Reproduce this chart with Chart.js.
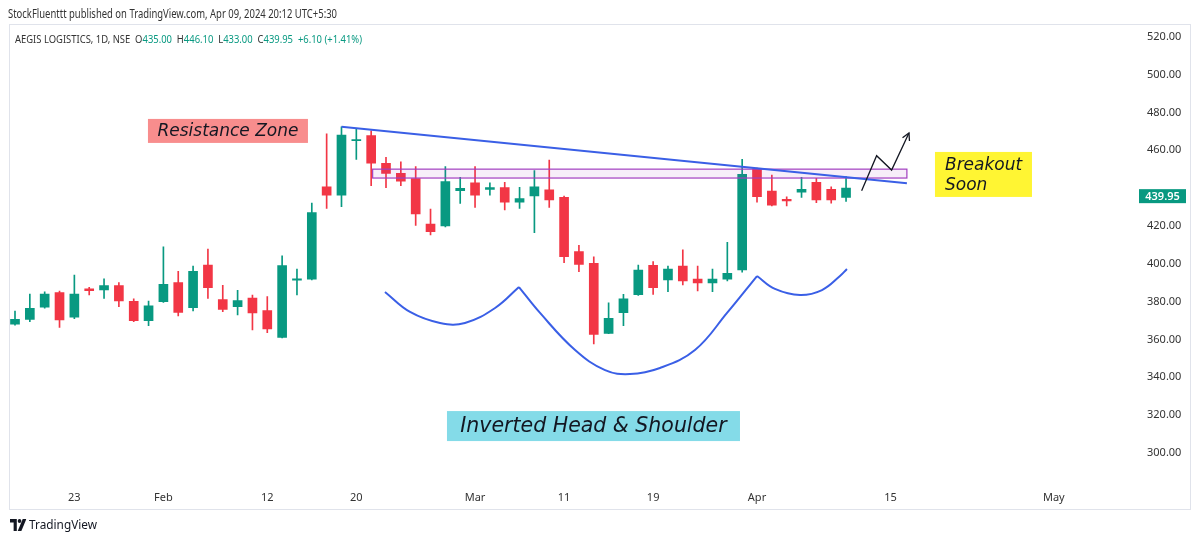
<!DOCTYPE html>
<html>
<head>
<meta charset="utf-8">
<script src="https://cdn.jsdelivr.net/npm/chart.js@4.4.1/dist/chart.umd.min.js"></script>
<style>
  html, body { margin: 0; padding: 0; background: #fff; }
  #wrap { position: relative; width: 1200px; height: 542px; font-family: 'Noto Sans', sans-serif; overflow: hidden; }
  #chart { position: absolute; left: 0; top: 0; }
  .fit { position: absolute; white-space: nowrap; transform-origin: 0 50%; line-height: 1; }
  #byline { left: 8px; top: 8px; font-size: 12px; color: #333; }
  #legend { left: 15px; top: 33px; font-size: 11px; color: #333; }
  #legend .v { color: #089981; }
  #footer { left: 10px; top: 518px; font-size: 13px; color: #131722; display: flex; align-items: center; gap: 3px; }
</style>
</head>
<body>
<div id="wrap">
  <canvas id="chart"></canvas>
  <div id="byline" class="fit" data-w="329">StockFluenttt published on TradingView.com, Apr 09, 2024 20:12 UTC+5:30</div>
  <div id="legend" class="fit" data-w="347">AEGIS LOGISTICS, 1D, NSE&nbsp;&nbsp;O<span class="v">435.00</span>&nbsp;&nbsp;H<span class="v">446.10</span>&nbsp;&nbsp;L<span class="v">433.00</span>&nbsp;&nbsp;C<span class="v">439.95</span>&nbsp;&nbsp;<span class="v">+6.10 (+1.41%)</span></div>
  <div id="footer" class="fit" data-w="87"><svg width="18" height="12" viewBox="0 0 36 24"><path d="M0 0h15v24H8V7H0z" fill="#131722"/><circle cx="21" cy="4" r="4" fill="#131722"/><path d="M28 0h8L25 24h-8z" fill="#131722"/></svg><span>TradingView</span></div>
</div>
<script>
// trading days shown on the time axis (past candles + future space up to May 8)
const dates = [
  '01-17','01-18','01-19','01-20','01-23','01-24','01-25','01-29','01-30','01-31',
  '02-01','02-02','02-05','02-06','02-07','02-08','02-09','02-12','02-13','02-14',
  '02-15','02-16','02-19','02-20','02-21','02-22','02-23','02-26','02-27','02-28',
  '02-29','03-01','03-02','03-04','03-05','03-06','03-07','03-11','03-12','03-13',
  '03-14','03-15','03-18','03-19','03-20','03-21','03-22','03-26','03-27','03-28',
  '04-01','04-02','04-03','04-04','04-05','04-08','04-09',
  '04-10','04-12','04-15','04-16','04-18','04-19','04-22','04-23','04-24','04-25',
  '04-26','04-29','04-30','05-02','05-03','05-06','05-07','05-08'
];

const opens  = [368.0,370.6,377.0,384.7,371.7,386.8,386.1,388.4,380.1,369.9,
                380.0,390.0,376.8,399.3,381.0,377.3,381.9,375.2,361.1,391.3,
                391.8,440.7,436.2,465.0,467.7,453.1,447.8,445.0,421.0,420.0,
                438.6,442.8,439.3,440.2,432.5,435.8,439.0,435.1,406.4,400.2,
                363.2,374.1,383.6,399.2,391.4,398.8,391.9,389.8,391.8,396.7,
                450.1,438.4,434.1,437.8,443.0,439.3,435.0];
const highs  = [375.0,384.0,385.1,385.6,394.0,387.5,392.0,390.0,381.4,380.3,
                409.0,396.0,398.8,407.8,388.6,386.0,383.5,382.6,404.2,397.2,
                432.0,468.6,472.4,471.1,470.3,456.3,453.9,451.3,428.9,451.3,
                445.7,451.3,442.8,443.0,440.4,449.2,454.8,435.8,409.7,403.7,
                379.4,383.8,399.3,401.1,398.8,407.3,398.8,397.2,411.3,455.2,
                450.5,446.9,435.4,445.7,445.2,440.7,446.1];
const lows   = [367.5,369.4,376.5,366.4,371.0,383.5,381.7,377.3,369.4,367.3,
                379.5,372.4,375.0,381.7,374.7,372.9,365.0,363.6,360.8,383.5,
                391.5,429.3,430.1,455.2,441.2,440.2,441.2,420.3,415.2,419.5,
                431.9,429.8,436.3,428.4,429.3,416.4,429.8,400.6,395.8,357.6,
                363.0,367.3,383.3,383.8,385.2,388.8,385.6,385.2,390.9,395.5,
                432.5,430.5,430.5,435.1,432.3,432.0,433.0];
const closes = [370.6,376.4,384.0,370.3,384.0,385.7,388.4,380.3,369.9,377.7,
                389.1,374.3,396.0,387.3,375.9,380.5,374.0,365.5,399.0,392.0,
                427.0,436.2,468.0,465.6,453.1,447.8,443.7,426.3,416.9,443.4,
                439.9,436.2,440.2,432.5,434.4,440.7,433.7,403.7,399.7,362.7,
                371.2,381.4,396.7,387.3,397.2,390.9,389.8,391.9,394.9,447.3,
                435.4,431.0,433.2,439.3,433.7,433.7,439.95];

// time axis labels
const tickDates  = ['01-23','02-01','02-12','02-20','03-01','03-11','03-19','04-01','04-15','05-02'];
const tickLabels = ['23','Feb','12','20','Mar','11','19','Apr','15','May'];
// price axis labels
const priceTicks = [300,320,340,360,380,400,420,440,460,480,500,520];

// drawings, as [bar index, price]
const trendLine    = [[22, 472.4], [60.1, 442.5]];
const leftShoulder = [[24.93,385.1],[26.62,374.5],[28.64,368.7],[30.32,368.7],[32.35,376.6],[33.96,387.7]];
const headCurve    = [[33.96,387.7],[35.38,374.0],[37.74,354.4],[39.76,343.8],[41.44,341.7],[43.46,344.9],[45.82,354.4],[47.98,374.0],[50.0,393.5]];
const rightShoulder= [[50.0,393.5],[51.21,386.7],[52.9,383.5],[54.38,386.1],[55.59,393.5],[56.06,397.2]];
const zone         = [[24.1, 445.3], [60.1, 450.0]];
const breakoutPath = [[57.05,438.6],[58.06,457.1],[59.07,449.5],[60.24,469.1]];

const UP = '#089981', DOWN = '#F23645', BLUE = '#3a5fe6';
const n = closes.length;
const candleColor = closes.map((c, i) => c >= opens[i] ? UP : DOWN);
const pts = arr => arr.map(([x, y]) => ({x, y}));
const lastClose = closes[n - 1];

function lineSet(arr, tension) {
  return { type: 'line', data: pts(arr), borderColor: BLUE, borderWidth: 2,
           pointRadius: 0, tension: tension, fill: false };
}

const drawings = {
  id: 'drawings',
  beforeDraw(chart) {
    const c = chart.ctx;
    c.save();
    c.strokeStyle = '#e0e3eb';
    c.lineWidth = 1;
    c.strokeRect(9.5, 24.5, 1181, 485);
    c.restore();
  },
  beforeDatasetDraw(chart, args) {
    if (args.index !== 3) return;
    const xs = chart.scales.x, ys = chart.scales.y, c = chart.ctx;
    const x0 = xs.getPixelForValue(zone[0][0]), x1 = xs.getPixelForValue(zone[1][0]);
    const y0 = ys.getPixelForValue(zone[1][1]), y1 = ys.getPixelForValue(zone[0][1]);
    c.save();
    c.fillStyle = 'rgba(156, 39, 176, 0.08)';
    c.fillRect(x0, y0, x1 - x0, y1 - y0);
    c.strokeStyle = '#a23fc0';
    c.lineWidth = 1.2;
    c.strokeRect(x0, y0, x1 - x0, y1 - y0);
    c.restore();
  },
  afterDatasetsDraw(chart) {
    const xs = chart.scales.x, ys = chart.scales.y, c = chart.ctx;
    const P = ([i, p]) => [xs.getPixelForValue(i), ys.getPixelForValue(p)];

    // breakout arrow
    c.save();
    c.strokeStyle = '#131722';
    c.lineWidth = 1.3;
    c.beginPath();
    breakoutPath.forEach((q, k) => { const [a, b] = P(q); k ? c.lineTo(a, b) : c.moveTo(a, b); });
    c.stroke();
    const [tx, ty] = P(breakoutPath[breakoutPath.length - 1]);
    const [fx, fy] = P(breakoutPath[breakoutPath.length - 2]);
    const ang = Math.atan2(ty - fy, tx - fx);
    c.beginPath();
    c.moveTo(tx - 8 * Math.cos(ang - 0.5), ty - 8 * Math.sin(ang - 0.5));
    c.lineTo(tx, ty);
    c.lineTo(tx - 8 * Math.cos(ang + 0.5), ty - 8 * Math.sin(ang + 0.5));
    c.stroke();
    c.restore();

    // text notes
    const notes = [
      { text: ['Resistance Zone'], at: [14.35, 470.2], w: 160, h: 24, fill: '#f88d8d', size: 17 },
      { text: ['Inverted Head & Shoulder'], at: [38.98, 314.2], w: 293, h: 30, fill: '#84dbe8', size: 20.5 },
      { text: ['Breakout', 'Soon'], at: [65.26, 447.2], w: 97, h: 45, fill: '#fff533', size: 17, left: true }
    ];
    notes.forEach(nt => {
      const [cx, cy] = P(nt.at);
      c.save();
      c.fillStyle = nt.fill;
      c.fillRect(cx - nt.w / 2, cy - nt.h / 2, nt.w, nt.h);
      c.fillStyle = '#131722';
      c.font = `oblique ${nt.size}px "DejaVu Sans", sans-serif`;
      c.textBaseline = 'middle';
      const lh = nt.size + 3;
      nt.text.forEach((t, k) => {
        const yy = cy - (nt.text.length - 1) * lh / 2 + k * lh + 1;
        if (nt.left) { c.textAlign = 'left'; c.fillText(t, cx - nt.w / 2 + 10, yy); }
        else { c.textAlign = 'center'; c.fillText(t, cx, yy); }
      });
      c.restore();
    });
  },
  afterDraw(chart) {
    // last price label on the price axis (sits a little below the close in the picture)
    const ys = chart.scales.y, c = chart.ctx;
    const yy = ys.getPixelForValue(lastClose) + 8;
    const x0 = chart.chartArea.right + 19;
    c.save();
    c.fillStyle = UP;
    c.fillRect(x0, yy - 7, 47, 14);
    c.fillStyle = '#fff';
    c.font = '600 11px "Noto Sans", sans-serif';
    c.textAlign = 'center';
    c.textBaseline = 'middle';
    c.fillText(lastClose.toFixed(2), x0 + 23.5, yy + 0.5);
    c.restore();
  }
};

const canvas = document.getElementById('chart');
canvas.width = 1200; canvas.height = 542;

new Chart(canvas, {
  type: 'bar',
  plugins: [drawings],
  data: {
    datasets: [
      lineSet(trendLine, 0),
      lineSet(leftShoulder, 0.4),
      lineSet(headCurve, 0.4),
      lineSet(rightShoulder, 0.4),
      { label: 'body', data: opens.map((o, i) => ({x: i, y: [o, closes[i]]})),
        backgroundColor: candleColor, barThickness: 9, grouped: false, minBarLength: 1, borderWidth: 0 },
      { label: 'wick', data: lows.map((l, i) => ({x: i, y: [l, highs[i]]})),
        backgroundColor: candleColor, barThickness: 1, grouped: false, borderWidth: 0 }
    ]
  },
  options: {
    responsive: false,
    animation: false,
    layout: { padding: { left: 10, right: 10, top: 25, bottom: 33 } },
    plugins: { legend: { display: false }, tooltip: { enabled: false } },
    scales: {
      x: {
        type: 'linear', position: 'bottom', offset: false,
        min: -0.337, max: 74.46,
        grid: { display: false, drawTicks: false }, border: { display: false },
        afterBuildTicks: s => { s.ticks = tickDates.map(d => ({ value: dates.indexOf(d) })); },
        afterFit: s => { s.height = 25; },
        ticks: {
          autoSkip: false, maxRotation: 0, padding: 7, color: '#333',
          font: { family: 'Noto Sans', size: 11 },
          callback: v => tickLabels[tickDates.indexOf(dates[v])]
        }
      },
      y: {
        // plot runs from y≈33.6 (label padding) to 484, so the range is set to put 520 at y≈37 and 300 at y≈452
        type: 'linear', position: 'right',
        min: 283.58, max: 521.64,
        grid: { display: false, drawTicks: false }, border: { display: false },
        afterBuildTicks: s => { s.ticks = priceTicks.map(v => ({ value: v })); },
        afterFit: s => { s.width = 70; },
        ticks: {
          padding: 27, color: '#333',
          font: { family: 'Noto Sans', size: 11 },
          callback: v => Math.abs(v - lastClose) < 8 ? '' : v.toFixed(2)
        }
      }
    }
  }
});

// squeeze the header/footer lines to the widths in the picture
document.querySelectorAll('.fit').forEach(el => {
  const w = el.getBoundingClientRect().width;
  el.style.transform = `scaleX(${el.dataset.w / w})`;
});
</script>
</body>
</html>
